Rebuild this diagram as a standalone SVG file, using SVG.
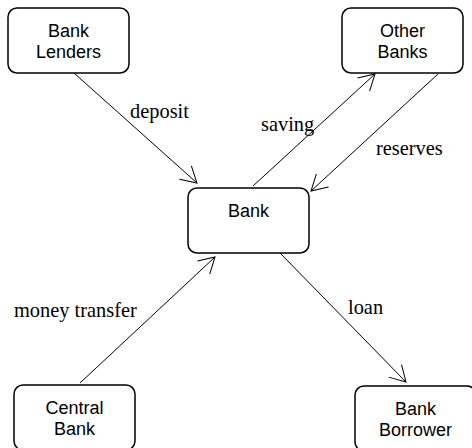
<svg xmlns="http://www.w3.org/2000/svg" width="472" height="448" viewBox="0 0 472 448">
<style>
.box{fill:#fff;stroke:#000;stroke-width:1.5}
.nt{font-family:"Liberation Sans",Arial,sans-serif;font-size:18px;fill:#000;text-anchor:middle}
.lbl{font-family:"Liberation Serif","Times New Roman",serif;font-size:20.4px;fill:#000}
.edge{fill:none;stroke:#000;stroke-width:1;marker-end:url(#arr)}
</style>
<defs>
<marker id="arr" markerUnits="userSpaceOnUse" orient="auto" refX="0" refY="0" markerWidth="20" markerHeight="20" overflow="visible">
<path d="M-15.6,-9 L0,0 L-15.6,9" fill="none" stroke="#000" stroke-width="1"/>
</marker>
</defs>
<rect width="472" height="448" fill="#fff"/>
<g id="connectors">
<line class="edge" x1="74" y1="73" x2="197" y2="183"/>
<line class="edge" x1="253" y1="186" x2="375" y2="74"/>
<line class="edge" x1="438" y1="74" x2="311" y2="191"/>
<line class="edge" x1="80" y1="383" x2="215" y2="257"/>
<line class="edge" x1="280" y1="253" x2="406" y2="382"/>
<text class="lbl" x="130" y="118">deposit</text>
<text class="lbl" x="261" y="131">saving</text>
<text class="lbl" x="376" y="155">reserves</text>
<text class="lbl" x="14" y="317">money transfer</text>
<text class="lbl" x="348" y="314">loan</text>
</g>
<g id="bank-lenders">
<rect class="box" x="8" y="8" width="121" height="65" rx="9"/>
<text class="nt" x="68.5" y="37">Bank</text>
<text class="nt" x="68.5" y="58">Lenders</text>
</g>
<g id="other-banks">
<rect class="box" x="342" y="8" width="121" height="65" rx="9"/>
<text class="nt" x="402.5" y="37">Other</text>
<text class="nt" x="402.5" y="58">Banks</text>
</g>
<g id="bank">
<rect class="box" x="188" y="188" width="121" height="65" rx="9"/>
<text class="nt" x="248.5" y="217">Bank</text>
</g>
<g id="central-bank">
<rect class="box" x="14" y="385" width="121" height="65" rx="9"/>
<text class="nt" x="74.5" y="414">Central</text>
<text class="nt" x="74.5" y="435">Bank</text>
</g>
<g id="bank-borrower">
<rect class="box" x="355" y="386" width="121" height="65" rx="9"/>
<text class="nt" x="415.5" y="415">Bank</text>
<text class="nt" x="415.5" y="436">Borrower</text>
</g>
</svg>
